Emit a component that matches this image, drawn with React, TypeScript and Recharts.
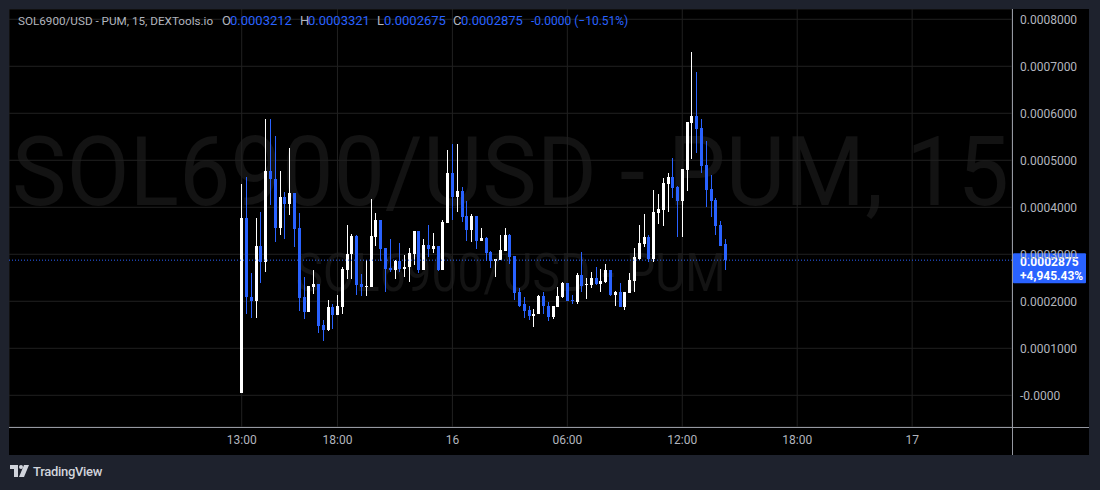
import React from "react";
import { ComposedChart, Bar, XAxis, YAxis, CartesianGrid, ReferenceLine } from "recharts";

// 15-minute candles of SOL6900/USD starting at 13:00 (day 15)
const opens = [
  0.057e-4, 3.77e-4, 2.09e-4, 2.0e-4, 3.17e-4, 2.84e-4, 4.77e-4, 4.6e-4, 3.55e-4, 4.21e-4,
  4.06e-4, 4.3e-4, 3.55e-4, 2.09e-4, 1.77e-4, 2.3e-4, 2.36e-4, 1.49e-4, 1.38e-4, 1.87e-4,
  1.7e-4, 1.88e-4, 2.66e-4, 3.0e-4, 3.38e-4, 2.36e-4, 2.3e-4, 2.3e-4, 3.36e-4, 3.74e-4,
  3.13e-4, 2.7e-4, 2.66e-4, 2.85e-4, 2.68e-4, 2.72e-4, 3.0e-4, 3.49e-4, 2.66e-4, 3.19e-4,
  3.11e-4, 3.17e-4, 2.66e-4, 3.66e-4, 4.72e-4, 4.21e-4, 4.34e-4, 3.81e-4, 3.51e-4, 3.81e-4,
  3.28e-4, 3.34e-4, 3.04e-4, 2.85e-4, 2.87e-4, 3.06e-4, 3.4e-4, 2.96e-4, 2.19e-4, 1.94e-4,
  1.81e-4, 1.69e-4, 1.73e-4, 2.11e-4, 1.91e-4, 1.67e-4, 1.88e-4, 2.09e-4, 2.38e-4, 2.02e-4,
  1.98e-4, 2.55e-4, 2.34e-4, 2.34e-4, 2.49e-4, 2.36e-4, 2.4e-4, 2.66e-4, 2.13e-4, 2.19e-4,
  1.87e-4, 2.17e-4, 2.43e-4, 2.91e-4, 3.21e-4, 3.36e-4, 2.91e-4, 3.87e-4, 3.94e-4, 4.49e-4,
  4.64e-4, 4.43e-4, 4.13e-4, 4.79e-4, 5.79e-4, 5.94e-4, 5.68e-4, 4.89e-4, 4.38e-4, 4.15e-4,
  3.62e-4, 3.212e-4,
];
const highs = [
  4.49e-4, 4.64e-4, 2.6e-4, 3.77e-4, 3.89e-4, 5.87e-4, 5.87e-4, 5.51e-4, 4.77e-4, 4.32e-4,
  5.26e-4, 4.3e-4, 3.87e-4, 2.51e-4, 2.32e-4, 2.66e-4, 2.36e-4, 1.6e-4, 2.02e-4, 1.94e-4,
  2.13e-4, 2.72e-4, 3.62e-4, 3.43e-4, 3.4e-4, 2.59e-4, 2.87e-4, 4.17e-4, 3.87e-4, 3.74e-4,
  3.13e-4, 3.32e-4, 2.87e-4, 3.23e-4, 2.98e-4, 3.13e-4, 3.49e-4, 3.49e-4, 3.32e-4, 3.62e-4,
  3.45e-4, 3.17e-4, 3.74e-4, 5.21e-4, 5.34e-4, 5.34e-4, 4.43e-4, 4.13e-4, 3.85e-4, 3.81e-4,
  3.57e-4, 3.36e-4, 3.06e-4, 2.89e-4, 3.4e-4, 3.57e-4, 3.43e-4, 2.96e-4, 2.28e-4, 2.09e-4,
  1.89e-4, 1.83e-4, 2.13e-4, 2.19e-4, 1.98e-4, 1.89e-4, 2.3e-4, 2.42e-4, 2.38e-4, 2.13e-4,
  2.61e-4, 3.04e-4, 2.49e-4, 2.62e-4, 2.72e-4, 2.68e-4, 2.79e-4, 2.66e-4, 2.21e-4, 2.38e-4,
  2.19e-4, 2.6e-4, 3.13e-4, 3.62e-4, 3.85e-4, 3.4e-4, 4.36e-4, 4.28e-4, 4.62e-4, 4.74e-4,
  5.04e-4, 4.45e-4, 4.81e-4, 5.81e-4, 7.3e-4, 6.87e-4, 5.87e-4, 5.4e-4, 4.68e-4, 4.19e-4,
  3.7e-4, 3.321e-4,
];
const lows = [
  0.05e-4, 1.73e-4, 1.64e-4, 1.64e-4, 2.39e-4, 2.62e-4, 4.04e-4, 3.26e-4, 3.4e-4, 3.33e-4,
  3.83e-4, 3.16e-4, 1.79e-4, 1.62e-4, 1.77e-4, 2.15e-4, 1.33e-4, 1.16e-4, 1.37e-4, 1.4e-4,
  1.7e-4, 1.73e-4, 2.47e-4, 2.47e-4, 2.13e-4, 2.11e-4, 2.11e-4, 2.3e-4, 3.17e-4, 2.85e-4,
  2.19e-4, 2.62e-4, 2.47e-4, 2.62e-4, 2.51e-4, 2.4e-4, 2.77e-4, 2.6e-4, 2.66e-4, 2.94e-4,
  3.02e-4, 2.64e-4, 2.66e-4, 3.66e-4, 3.74e-4, 3.89e-4, 3.68e-4, 3.28e-4, 3.26e-4, 3.11e-4,
  3.28e-4, 2.85e-4, 2.7e-4, 2.51e-4, 2.87e-4, 3.06e-4, 2.79e-4, 2.02e-4, 1.87e-4, 1.64e-4,
  1.6e-4, 1.45e-4, 1.73e-4, 1.74e-4, 1.58e-4, 1.62e-4, 1.88e-4, 2.06e-4, 2.0e-4, 1.94e-4,
  1.94e-4, 2.19e-4, 2.04e-4, 2.28e-4, 2.34e-4, 2.19e-4, 2.38e-4, 2.11e-4, 1.89e-4, 1.87e-4,
  1.81e-4, 2.17e-4, 2.2e-4, 2.87e-4, 3.16e-4, 2.83e-4, 2.83e-4, 3.64e-4, 3.6e-4, 3.89e-4,
  4.19e-4, 3.36e-4, 3.36e-4, 4.34e-4, 5.02e-4, 5.15e-4, 4.74e-4, 4.0e-4, 3.79e-4, 3.4e-4,
  3.17e-4, 2.675e-4,
];
const closes = [
  3.77e-4, 2.09e-4, 2.0e-4, 3.17e-4, 2.84e-4, 4.77e-4, 4.6e-4, 3.55e-4, 4.21e-4, 4.06e-4,
  4.3e-4, 3.53e-4, 2.06e-4, 1.77e-4, 2.32e-4, 2.36e-4, 1.47e-4, 1.38e-4, 1.87e-4, 1.7e-4,
  1.89e-4, 2.68e-4, 3.0e-4, 3.38e-4, 2.34e-4, 2.3e-4, 2.32e-4, 3.38e-4, 3.74e-4, 3.11e-4,
  2.68e-4, 2.66e-4, 2.85e-4, 2.68e-4, 2.74e-4, 3.02e-4, 3.49e-4, 2.66e-4, 3.19e-4, 3.11e-4,
  3.17e-4, 2.66e-4, 3.68e-4, 4.72e-4, 4.21e-4, 4.34e-4, 3.79e-4, 3.51e-4, 3.81e-4, 3.28e-4,
  3.34e-4, 3.02e-4, 2.85e-4, 2.89e-4, 3.09e-4, 3.4e-4, 2.94e-4, 2.17e-4, 1.91e-4, 1.79e-4,
  1.68e-4, 1.74e-4, 2.12e-4, 1.9e-4, 1.67e-4, 1.89e-4, 2.11e-4, 2.38e-4, 2.0e-4, 2.0e-4,
  2.55e-4, 2.32e-4, 2.36e-4, 2.49e-4, 2.36e-4, 2.43e-4, 2.66e-4, 2.13e-4, 2.19e-4, 1.87e-4,
  2.19e-4, 2.45e-4, 2.94e-4, 3.23e-4, 3.36e-4, 2.91e-4, 3.89e-4, 3.96e-4, 4.51e-4, 4.64e-4,
  4.4e-4, 4.13e-4, 4.81e-4, 5.81e-4, 5.94e-4, 5.66e-4, 4.87e-4, 4.36e-4, 4.13e-4, 3.6e-4,
  3.17e-4, 2.875e-4,
];

// time axis: bar index (15-minute steps from 13:00 on the 15th)
const xTickIdx = [0, 20, 44, 68, 92, 116, 140];
const xTickLabels = ["13:00", "18:00", "16", "06:00", "12:00", "18:00", "17"];
const xDomain: [number, number] = [-48.59, 160.85];

const yTicks = [0, 1e-4, 2e-4, 3e-4, 4e-4, 5e-4, 6e-4, 7e-4, 8e-4];
const yDomain: [number, number] = [-6.745e-5, 8.219e-4];

const lastPrice = 0.0002875;
const lastPriceLabel = "0.0002875";
const lastChangeLabel = "+4,945.43%";

const header = {
  title: "SOL6900/USD - PUM, 15, DEXTools.io",
  o: "0.0003212",
  h: "0.0003321",
  l: "0.0002675",
  c: "0.0002875",
  chg: "-0.0000 (\u221210.51%)",
};

const UP = "#ffffff";
const DOWN = "#2962ff";
const TEXT = "#b2b5be";
const FONT = "Roboto, 'Liberation Sans', sans-serif";

const data = opens.map((o, i) => ({
  i,
  open: o,
  high: highs[i],
  low: lows[i],
  close: closes[i],
  range: [lows[i], highs[i]],
}));

const Candle = (props: any) => {
  const { x, y, width, height, payload } = props;
  if (x == null || y == null) return null;
  const { open, close, high, low } = payload;
  const color = close >= open ? UP : DOWN;
  const top = Math.min(y, y + height);
  const bot = Math.max(y, y + height);
  const span = high - low;
  const k = span > 0 ? (bot - top) / span : 0;
  const yOf = (v: number) => top + (high - v) * k;
  const bTop = Math.round(yOf(Math.max(open, close)));
  const bBot = Math.round(yOf(Math.min(open, close)));
  const c = Math.floor(x + width / 2);
  return (
    <g>
      <rect x={c} y={Math.round(top)} width={1} height={Math.max(1, Math.round(bot) - Math.round(top))} fill={color} />
      <rect x={c - 1} y={bTop} width={3} height={Math.max(1, bBot - bTop)} fill={color} />
    </g>
  );
};

const PriceLabel = (props: any) => {
  const vb = props.viewBox || {};
  const x = (vb.x || 0) + (vb.width || 0);
  const y = vb.y || 0;
  return (
    <g>
      <rect x={x + 1} y={y - 7} width={73} height={30} rx={1} fill="#2962ff" />
      <text x={x + 8} y={y + 6} fill="#ffffff" fontSize={12} fontWeight={700} fontFamily={FONT}>
        {lastPriceLabel}
      </text>
      <text x={x + 8} y={y + 20} fill="#ffffff" fontSize={12} fontWeight={700} fontFamily={FONT}>
        {lastChangeLabel}
      </text>
    </g>
  );
};

const hdr: React.CSSProperties = { position: "absolute", top: 4, whiteSpace: "nowrap", lineHeight: "16px" };

export default function App() {
  return (
    <div
      style={{
        position: "absolute",
        left: 0,
        top: 0,
        width: 1100,
        height: 490,
        background: "#1e222d",
        fontFamily: FONT,
        overflow: "hidden",
      }}
    >
      <div style={{ position: "absolute", left: 9, top: 9, width: 1080, height: 446, background: "#000" }}>
        <svg width={1003} height={418} style={{ position: "absolute", left: 0, top: 0 }}>
          <text x={501.5} y={196} textAnchor="middle" fontSize={96} fontFamily={FONT} fill="#131313" textLength={997} lengthAdjust="spacingAndGlyphs">
            SOL6900/USD - PUM, 15
          </text>
          <text x={501.5} y={282} textAnchor="middle" fontSize={54} fontFamily={FONT} fill="#131313" textLength={430} lengthAdjust="spacingAndGlyphs">
            SOL6900/USD - PUM
          </text>
        </svg>
        <div style={{ position: "absolute", left: 0, top: 0 }}>
          <ComposedChart width={1080} height={446} data={data} margin={{ top: 0, right: 0, bottom: 0, left: 0 }}>
            <CartesianGrid stroke="#202020" strokeWidth={1} />
            <XAxis
              dataKey="i"
              type="number"
              domain={xDomain}
              allowDataOverflow
              ticks={xTickIdx}
              tickFormatter={(v: number) => xTickLabels[xTickIdx.indexOf(v)] ?? ""}
              height={28}
              axisLine={false}
              tickLine={false}
              tick={{ fill: TEXT, fontSize: 12, fontFamily: FONT }}
              interval={0}
            />
            <YAxis
              orientation="right"
              type="number"
              domain={yDomain}
              allowDataOverflow
              ticks={yTicks}
              tickFormatter={(v: number) => (v === 0 ? "-0.0000" : v.toFixed(7))}
              width={77}
              axisLine={false}
              tickLine={false}
              tick={{ fill: TEXT, fontSize: 12, fontFamily: FONT, textAnchor: "start" }}
              interval={0}
            />
            <Bar dataKey="range" barSize={3} shape={<Candle />} isAnimationActive={false} />
            <ReferenceLine y={lastPrice} stroke="#2962ff" strokeDasharray="1 2" label={<PriceLabel />} />
          </ComposedChart>
        </div>
        <div style={{ position: "absolute", left: 0, top: 418, width: 1080, height: 1, background: "#9598a1" }} />
        <div style={{ position: "absolute", left: 1003, top: 0, width: 1, height: 446, background: "#9598a1" }} />
        <div style={{ ...hdr, left: 9, fontSize: 11.7, color: TEXT }}>{header.title}</div>
        <div style={{ ...hdr, left: 213, fontSize: 13, color: TEXT }}>O</div>
        <div style={{ ...hdr, left: 221, fontSize: 13, color: DOWN }}>{header.o}</div>
        <div style={{ ...hdr, left: 291, fontSize: 13, color: TEXT }}>H</div>
        <div style={{ ...hdr, left: 299, fontSize: 13, color: DOWN }}>{header.h}</div>
        <div style={{ ...hdr, left: 368, fontSize: 13, color: TEXT }}>L</div>
        <div style={{ ...hdr, left: 375, fontSize: 13, color: DOWN }}>{header.l}</div>
        <div style={{ ...hdr, left: 444, fontSize: 13, color: TEXT }}>C</div>
        <div style={{ ...hdr, left: 452, fontSize: 13, color: DOWN }}>{header.c}</div>
        <div style={{ ...hdr, left: 522, fontSize: 12, color: DOWN }}>{header.chg}</div>
      </div>
      <div style={{ position: "absolute", left: 10, top: 463, height: 16, display: "flex", alignItems: "center" }}>
        <svg width={20} height={14} viewBox="0 0 20 14">
          <path d="M0 1h8v12H4V5H0z" fill="#d1d4dc" />
          <circle cx={11} cy={3} r={2} fill="#d1d4dc" />
          <path d="M14 1h5l-5 12h-5z" fill="#d1d4dc" />
        </svg>
        <span style={{ marginLeft: 3, color: "#d1d4dc", fontSize: 13, fontWeight: 500, letterSpacing: -0.3 }}>TradingView</span>
      </div>
    </div>
  );
}
